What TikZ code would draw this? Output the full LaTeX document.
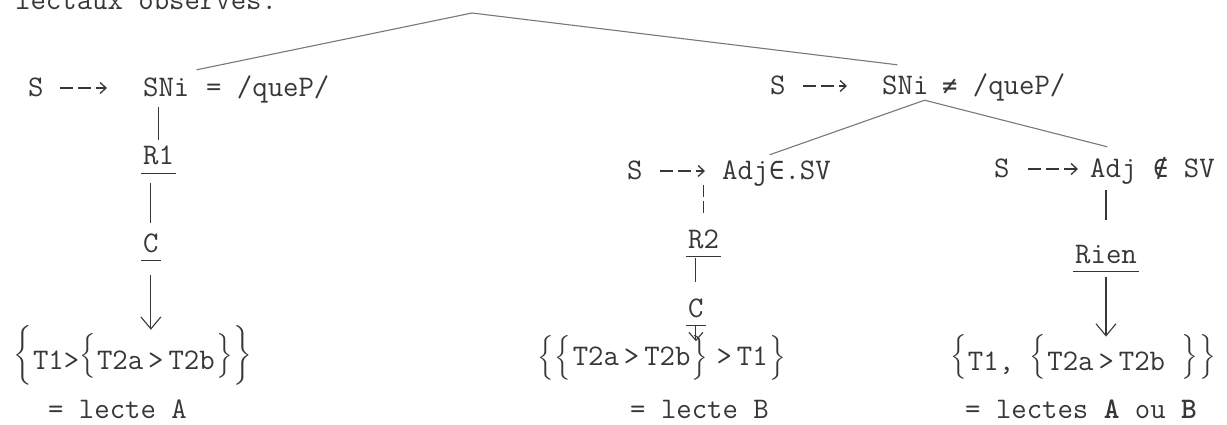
\documentclass[tikz,border=0pt]{standalone}
\usepackage{amsmath}
\usepackage{fontspec}
\newfontfamily\symf[Scale=0.85]{DejaVu Sans Mono}
\usetikzlibrary{arrows.meta,calc}
\definecolor{ink}{RGB}{55,55,55}
\definecolor{lgray}{RGB}{120,120,120}
\newcommand\LB[2][7pt]{\raisebox{#1}{$\left\{\vcenter{\hbox{\rule{0pt}{#2}}}\right.$}}
\newcommand\RB[2][7pt]{\raisebox{#1}{$\left.\vcenter{\hbox{\rule{0pt}{#2}}}\right\}$}}
\begin{document}
\begin{tikzpicture}[x=1pt,y=-1pt,
  tw/.style={font=\ttfamily\fontsize{29.9}{34}\selectfont, text=ink, inner sep=0pt,
             anchor=base west, text height=18pt, text depth=0pt},
  twu/.style={tw, text depth=8pt},
  expr/.style={font=\ttfamily\fontsize{29.9}{34}\selectfont, text=ink, inner sep=0pt, anchor=base west},
  tline/.style={draw=lgray, line width=1.1pt},
  chain/.style={draw=ink, line width=1.1pt},
  dasharrow/.style={draw=ink, line width=1.3pt, dash pattern=on 13pt off 5pt,
                    -{Straight Barb[length=6pt,width=11pt]}},
  downarrow/.style={chain, -{Straight Barb[length=12pt,width=20pt]}},
  ul/.style={draw=ink, line width=1.1pt}]
\fill[white] (0,0) rectangle (1227,425);
\useasboundingbox (0,0) rectangle (1227,425);

% heading (cut off at top)
\node[tw] (head) at (15,10) {lectaux observés.};

% level 1
\coordinate (top) at (472,13);
\node[tw] (S1) at (28,97) {S};
\node[tw] (SNi1) at (143,97) {SNi};
\node[tw] (Q1) at (206,97) {= /queP/};
\node[tw] (S2) at (770,95) {S};
\node[tw] (SNi2) at (882,95) {SNi};
\node[tw] (Q2) at (942,95) {{\symf ≠} /queP/};

% level 2
\node[tw] (S3) at (627,180) {S};
\node[tw] (Adj3) at (722,180) {Adj};
\node[tw] (V3) at (769,180) {{\symf ∈}.SV};
\node[tw] (S4) at (994,178) {S};
\node[tw] (Adj4) at (1090,178) {Adj};
\node[tw] (V4) at (1153,178) {{\symf ∉} SV};

% chains
\node[twu] (R1) at (143,165) {R1};
\node[twu] (C1) at (143,252) {C};
\node[twu] (R2) at (688,248) {R2};
\node[twu] (C2) at (688,317) {C};
\node[twu] (Rien) at (1075,263) {Rien};
\foreach \n in {R1,C1,R2,C2,Rien}
  \draw[ul] ([xshift=-2pt]\n.south west) -- ([xshift=2pt]\n.south east);

% bracketed results
\node[expr] (E1) at (13,369) {\LB{56pt}T1>\LB{47pt}T2a\,>\,T2b\RB{47pt}\RB{56pt}};
\node[expr] (E2) at (537,365) {\LB[1pt]{42pt}\LB[1pt]{38pt}T2a\,>\,T2b\RB[1pt]{38pt}\;>\,T1\RB[1pt]{42pt}};
\node[expr] (E3) at (950,370) {\LB{46pt}T1, \LB{38pt}T2a\,>\,T2b \RB{38pt}\RB{46pt}};

% lectes
\node[tw] (LA) at (48,418) {= lecte A};
\node[tw] (LB) at (630,418) {= lecte B};
\node[tw] (LAB) at (965,418) {= lectes \textbf{A} ou \textbf{B}};

% tree lines
\draw[tline] (top) -- ($(SNi1.north east)+(7,-9)$);
\draw[tline] (top) -- ($(SNi2.north)+(-8,-12)$);
\draw[tline] ($(SNi2.south east)+(-4,5)$) -- ($(Adj3.north east)+(1,-7)$);
\draw[tline] ($(SNi2.south east)+(-4,5)$) -- ($(Adj4.north)+(-6,-13)$);

% rewriting arrows
\draw[dasharrow, shorten <=16pt, shorten >=36pt] (S1) -- (SNi1);
\draw[dasharrow, shorten <=17pt, shorten >=35pt] (S2) -- (SNi2);
\draw[dasharrow, shorten <=17pt, shorten >=17pt] (S3) -- (Adj3);
\draw[dasharrow, shorten <=18pt, shorten >=12pt] (S4) -- (Adj4);

% left chain
\draw[chain, shorten <=10pt, shorten >=7pt] (R1.north |- SNi1.south) -- (R1.north);
\draw[chain, shorten <=10pt, shorten >=11pt] (C1.north |- R1.south) -- (C1.north);
\draw[downarrow, shorten <=15pt, shorten >=-4pt] (C1.south) -- (C1.south |- E1.north);

% middle chain
\draw[chain, dash pattern=on 12pt off 4pt, shorten <=5pt, shorten >=13pt] (R2.north |- Adj3.south) -- (R2.north);
\draw[chain, shorten <=2pt, shorten >=17pt] (C2.north |- R2.south) -- (C2.north);
\coordinate (tipB) at ($(C2.south)+(0,16)$);
\draw[chain, -{Straight Barb[length=8pt,width=14pt]}, shorten <=1pt] (C2.south) -- (tipB);

% right chain
\draw[chain, shorten <=12pt, shorten >=25pt] (Rien.north |- Adj4.south) -- (Rien.north);
\draw[downarrow, shorten <=6pt, shorten >=-3pt] (Rien.south) -- (Rien.south |- E3.north);
\end{tikzpicture}
\end{document}
